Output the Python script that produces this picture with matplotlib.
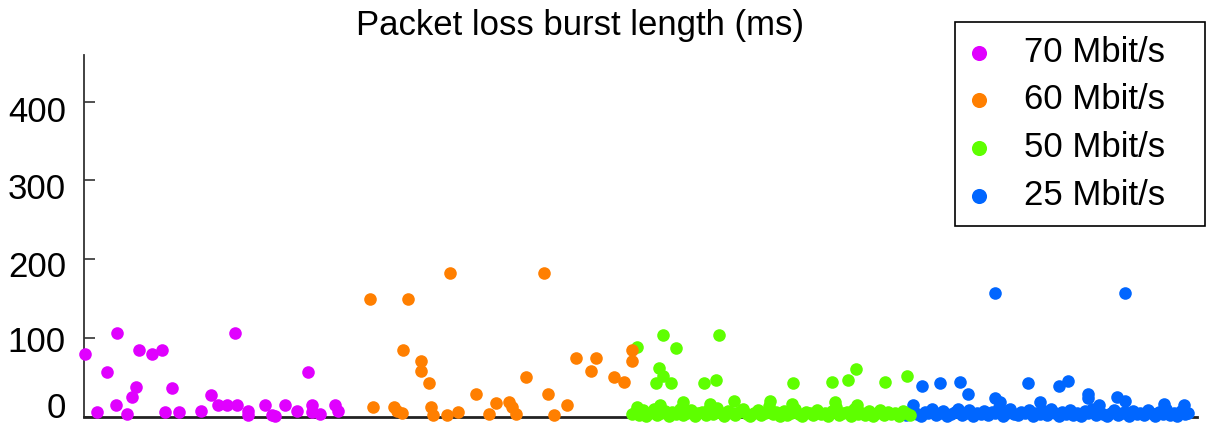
"""
Packet loss burst length scatter, four link rates side by side.
"""

import matplotlib
matplotlib.use('Agg')
import matplotlib.pyplot as plt
import matplotlib.transforms as mtrans

plt.rcParams['font.family'] = ['Liberation Sans', 'DejaVu Sans']

# x = sample position along the run, y = burst length in ms
x_70 = [1, 13, 23, 33, 32, 43, 48, 52, 55, 68, 78, 81, 88, 95, 117, 127, 134,
        143, 151, 153, 164, 164, 181, 188, 191, 201, 213, 224, 228, 228, 236,
        251, 254]
y_70 = [80, 5.5, 56, 106, 14, 3.4, 25, 37, 85, 80, 85, 5.5, 36, 5.5, 7.6, 27,
        14, 14, 106, 14, 7.6, 1.3, 14, 1.3, 1, 14, 7.6, 56, 14, 5.5, 3.4, 14,
        7.6]

x_60 = [286, 289, 310, 313, 318, 319, 324, 337, 337, 345, 347, 349, 363, 366,
        374, 392, 405, 412, 425, 428, 432, 442, 460, 464, 470, 483, 492, 507,
        512, 530, 540, 548, 548]
y_60 = [149, 12, 12.7, 7.6, 4.7, 84, 149, 71, 57.6, 43, 12, 2, 2, 182.6, 5.5,
        29, 3.4, 17, 18, 12, 3.4, 50, 182.6, 29, 2, 15, 74.5, 58, 74.5, 50,
        43.6, 84, 70]

x_50_peaks = [553, 579, 592, 575, 579, 572, 587, 620, 632, 635, 650, 686, 709,
              748, 764, 772, 801, 823, 576, 599, 626, 708, 751, 773, 553]
y_50_peaks = [88, 104, 87, 61, 52, 42, 42, 42, 47, 104, 20, 20, 42, 44, 47, 60,
              44, 51, 14, 18, 16, 16, 18, 14, 12]
x_50_floor = [548, 551, 555, 559, 562, 566, 570, 573, 577, 581,
              585, 588, 592, 596, 599, 603, 607, 611, 614, 618,
              622, 625, 629, 633, 637, 640, 644, 648, 651, 655,
              659, 663, 666, 670, 674, 677, 681, 685, 689, 692,
              696, 700, 703, 707, 711, 715, 718, 722, 726, 729,
              733, 737, 741, 744, 748, 752, 755, 759, 763, 767,
              770, 774, 778, 781, 785, 789, 793, 796, 800, 804,
              807, 811, 815, 819, 822, 826]
y_50_floor = [3, 6, 2, 8, 1, 5, 9, 2, 4, 7,
              1, 6, 3, 10, 2, 5, 8, 1, 4, 6,
              2, 9, 3, 11, 5, 1, 7, 4, 2, 6,
              9, 3, 1, 5, 8, 2, 4, 13, 3, 6,
              1, 7, 2, 5, 10, 3, 1, 6, 4, 2,
              8, 3, 5, 1, 7, 12, 2, 4, 6, 1,
              9, 3, 5, 2, 7, 1, 4, 8, 2, 6,
              3, 5, 1, 7, 4, 2]

x_25_peaks = [911, 1041, 838, 856, 876, 884, 944, 975, 984, 1004, 1004, 1033,
              1041, 911, 916, 956, 829, 1015, 1080, 1100]
y_25_peaks = [157, 157, 39, 42, 44, 29, 42, 39, 45, 29, 23, 25, 20, 23, 18, 18,
              14, 15, 16, 14]
x_25_floor = [822, 826, 829, 833, 837, 841, 844, 848, 852, 856,
              859, 863, 867, 871, 874, 878, 882, 885, 889, 893,
              897, 900, 904, 908, 911, 915, 919, 923, 926, 930,
              934, 937, 941, 945, 949, 952, 956, 960, 963, 967,
              971, 975, 978, 982, 986, 989, 993, 997, 1001, 1004,
              1008, 1012, 1015, 1019, 1023, 1027, 1030, 1034, 1038, 1041,
              1045, 1049, 1053, 1056, 1060, 1064, 1067, 1071, 1075, 1079,
              1082, 1086, 1090, 1093, 1097, 1101, 1104]
y_25_floor = [2, 5, 8, 3, 1, 6, 4, 9, 2, 5,
              7, 1, 3, 6, 10, 2, 4, 8, 1, 5,
              3, 7, 2, 6, 4, 12, 1, 5, 9, 3,
              2, 6, 4, 8, 1, 5, 3, 7, 2, 10,
              4, 1, 6, 3, 8, 2, 5, 1, 7, 4,
              9, 2, 6, 3, 1, 5, 8, 2, 4, 6,
              1, 7, 3, 5, 2, 8, 4, 1, 6, 3,
              9, 2, 5, 1, 7, 3, 4]

labels = ['70 Mbit/s', '60 Mbit/s', '50 Mbit/s', '25 Mbit/s']
colors = ['#e000ff', '#ff7f00', '#5eff00', '#0066ff']
yticks = [0, 100, 200, 300, 400]

fig = plt.figure(figsize=(12.06, 4.25), dpi=100)
ax = fig.add_axes([84 / 1206, 8.5 / 425, 1113 / 1206, 362 / 425])

kw = dict(s=82, linewidths=0, clip_on=False)
# drawn back to front: blue, green, orange, purple
h25 = ax.scatter(x_25_floor + x_25_peaks, y_25_floor + y_25_peaks,
                 color=colors[3], label=labels[3], zorder=3, **kw)
h50 = ax.scatter(x_50_floor + x_50_peaks, y_50_floor + y_50_peaks,
                 color=colors[2], label=labels[2], zorder=4, **kw)
h60 = ax.scatter(x_60, y_60, color=colors[1], label=labels[1], zorder=5, **kw)
h70 = ax.scatter(x_70, y_70, color=colors[0], label=labels[0], zorder=6, **kw)

ax.set_xlim(0, 1113)
ax.set_ylim(0, 460)
ax.set_yticks(yticks)
ax.set_xticks([])
ax.tick_params(axis='y', direction='in', length=8, width=1.2, color='#333333',
               labelsize=25, pad=13)
# nudge tick labels a little, as in the source image
for lbl, dy in zip(ax.get_yticklabels(), [12, -1, -5, -6, -7]):
    lbl.set_transform(lbl.get_transform() +
                      mtrans.ScaledTranslation(0, dy / 100, fig.dpi_scale_trans))
for side in ('top', 'right'):
    ax.spines[side].set_visible(False)
ax.spines['left'].set_color('#333333')
ax.spines['left'].set_linewidth(1.3)
ax.spines['bottom'].set_color('#222222')
ax.spines['bottom'].set_linewidth(2)

fig.text(580 / 1206, 1 - 25 / 425, 'Packet loss burst length (ms)',
         ha='center', va='center', fontsize=25)

leg = fig.legend(handles=[h70, h60, h50, h25], labels=labels,
                 loc='upper left',
                 bbox_to_anchor=(955 / 1206, 1 - 232 / 425, 250 / 1206, 210 / 425),
                 mode='expand', borderaxespad=0, fontsize=25,
                 markerscale=1.2, handlelength=0.6, handletextpad=1.0,
                 borderpad=0.4, labelspacing=0.42, fancybox=False,
                 framealpha=1, edgecolor='black')
leg.get_frame().set_linewidth(1.2)

fig.savefig('out.png', dpi=100)
